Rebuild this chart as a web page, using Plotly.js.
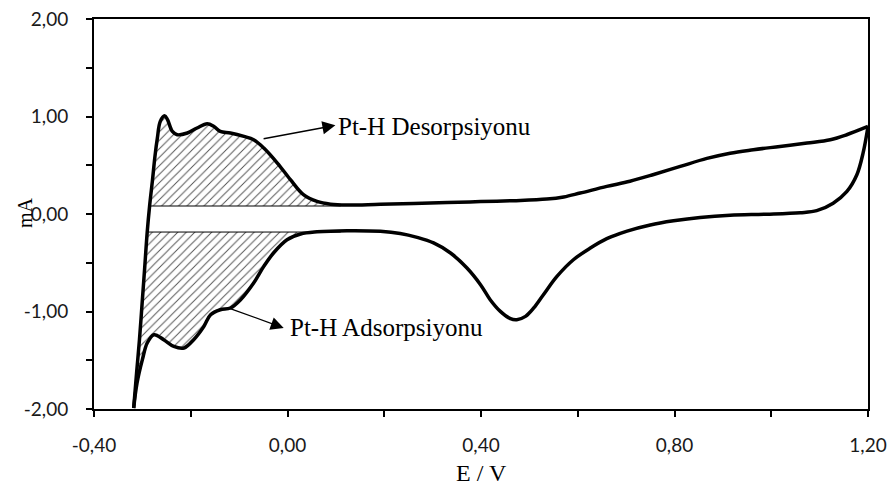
<!DOCTYPE html>
<html><head><meta charset="utf-8">
<script src="https://cdn.plot.ly/plotly-3.0.1.min.js"></script>
<style>html,body{margin:0;padding:0;background:#fff}#chart{width:893px;height:487px}</style>
</head><body><div id="chart"></div>
<script>
// Anodic (forward) scan: E (V) and current (mA)
const anodicE = [-0.318,-0.312,-0.306,-0.300,-0.295,-0.290,-0.285,-0.279,-0.274,-0.269,-0.263,-0.254,-0.248,-0.238,-0.228,-0.207,-0.187,-0.166,-0.152,-0.139,-0.118,-0.090,-0.070,-0.049,-0.021,0.006,0.033,0.061,0.089,0.123,0.192,0.330,0.399,0.467,0.536,0.571,0.605,0.660,0.708,0.757,0.812,0.867,0.915,0.963,1.018,1.074,1.122,1.156,1.200];
const anodicI = [-1.99,-1.631,-1.289,-0.879,-0.537,-0.185,0.085,0.352,0.591,0.779,0.950,1.008,0.967,0.847,0.813,0.831,0.882,0.926,0.898,0.847,0.831,0.796,0.762,0.677,0.523,0.352,0.198,0.129,0.101,0.092,0.100,0.118,0.127,0.137,0.153,0.175,0.215,0.283,0.336,0.405,0.488,0.570,0.624,0.659,0.693,0.728,0.762,0.813,0.898];
// Cathodic (reverse) scan
const cathodicE = [1.200,1.190,1.177,1.156,1.128,1.094,1.060,0.991,0.915,0.853,0.798,0.750,0.702,0.660,0.626,0.591,0.557,0.529,0.509,0.492,0.474,0.461,0.440,0.419,0.399,0.371,0.337,0.302,0.268,0.233,0.192,0.123,0.061,0.027,-0.001,-0.029,-0.049,-0.070,-0.097,-0.118,-0.139,-0.159,-0.173,-0.194,-0.214,-0.235,-0.256,-0.276,-0.290,-0.300,-0.311,-0.318];
const cathodicI = [0.898,0.629,0.403,0.229,0.111,0.034,0.013,-0.002,-0.012,-0.035,-0.070,-0.112,-0.175,-0.253,-0.349,-0.469,-0.640,-0.828,-0.964,-1.050,-1.084,-1.074,-0.999,-0.879,-0.725,-0.554,-0.400,-0.297,-0.240,-0.200,-0.178,-0.172,-0.183,-0.205,-0.264,-0.400,-0.537,-0.708,-0.879,-0.964,-0.982,-1.033,-1.153,-1.289,-1.374,-1.358,-1.289,-1.238,-1.323,-1.494,-1.733,-1.99];
// Baselines of the hatched charge areas
const desorptionBase = 0.082;
const adsorptionBase = -0.185;
const hatchEnd = 0.11;
// Tick labels
const xTickVals = [-0.4, 0, 0.4, 0.8, 1.2];
const xTickText = ['-0,40','0,00','0,40','0,80','1,20'];
const yTickVals = [-2, -1, 0, 1, 2];
const yTickText = ['-2,00','-1,00','0,00','1,00','2,00'];
const labels = ['Pt-H Desorpsiyonu', 'Pt-H Adsorpsiyonu'];

function lerpX(x0,y0,x1,y1,L){ return x0 + (x1-x0)*(L-y0)/(y1-y0); }
function lerpY(x0,y0,x1,y1,X){ return y0 + (y1-y0)*(X-x0)/(x1-x0); }

// Desorption area (above desorptionBase, under anodic curve)
let iA = 0; while(!(anodicI[iA] < desorptionBase && anodicI[iA+1] >= desorptionBase)) iA++;
const xDesStart = lerpX(anodicE[iA],anodicI[iA],anodicE[iA+1],anodicI[iA+1],desorptionBase);
const desX = [xDesStart], desY = [desorptionBase];
let k = iA+1;
while (anodicE[k] < hatchEnd) { desX.push(anodicE[k]); desY.push(anodicI[k]); k++; }
desX.push(hatchEnd); desY.push(lerpY(anodicE[k-1],anodicI[k-1],anodicE[k],anodicI[k],hatchEnd));
desX.push(hatchEnd); desY.push(desorptionBase);
desX.push(xDesStart); desY.push(desorptionBase);

// Adsorption area (below adsorptionBase, between anodic rise and cathodic curve)
let iC = -1;
for (let i=0;i<cathodicI.length-1;i++){ if(cathodicI[i] >= adsorptionBase && cathodicI[i+1] < adsorptionBase) iC=i; }
const xAdsEnd = lerpX(cathodicE[iC],cathodicI[iC],cathodicE[iC+1],cathodicI[iC+1],adsorptionBase);
let jA = 0; while(!(anodicI[jA] < adsorptionBase && anodicI[jA+1] >= adsorptionBase)) jA++;
const xAdsStart = lerpX(anodicE[jA],anodicI[jA],anodicE[jA+1],anodicI[jA+1],adsorptionBase);
const adsX = [xAdsEnd], adsY = [adsorptionBase];
for (let i=iC+1;i<cathodicE.length;i++){ adsX.push(cathodicE[i]); adsY.push(cathodicI[i]); }
for (let i=1;i<=jA;i++){ adsX.push(anodicE[i]); adsY.push(anodicI[i]); }
adsX.push(xAdsStart); adsY.push(adsorptionBase);
adsX.push(xAdsEnd); adsY.push(adsorptionBase);

const hatch = {shape:'/', size:6, solidity:0.16, fgcolor:'#555', bgcolor:'#ffffff'};
const traces = [
  {x:desX, y:desY, mode:'lines', fill:'toself', fillcolor:'#ffffff', fillpattern:hatch, line:{width:0, color:'rgba(0,0,0,0)'}, hoverinfo:'skip'},
  {x:adsX, y:adsY, mode:'lines', fill:'toself', fillcolor:'#ffffff', fillpattern:hatch, line:{width:0, color:'rgba(0,0,0,0)'}, hoverinfo:'skip'},
  {x:[xDesStart, hatchEnd], y:[desorptionBase, desorptionBase], mode:'lines', line:{color:'#000', width:1}},
  {x:[xAdsStart, hatchEnd], y:[adsorptionBase, adsorptionBase], mode:'lines', line:{color:'#000', width:1}},
  {x:anodicE, y:anodicI, mode:'lines', line:{color:'#000', width:3.5, shape:'spline', smoothing:1}},
  {x:cathodicE, y:cathodicI, mode:'lines', line:{color:'#000', width:3.5, shape:'spline', smoothing:1}}
];

const tickFont = {family:'Lato, "Open Sans", sans-serif', size:19, color:'#1a1a1a'};
const serif = 'Liberation Serif, "Times New Roman", serif';
const layout = {
  width:893, height:487,
  margin:{l:94, r:25, t:19, b:78},
  paper_bgcolor:'#fff', plot_bgcolor:'#fff',
  showlegend:false,
  xaxis:{range:[-0.4,1.2], tickmode:'array', tickvals:xTickVals, ticktext:xTickText,
    showgrid:false, zeroline:false, showline:true, mirror:true, linecolor:'#000', linewidth:2,
    ticks:'outside', ticklen:6, tickwidth:2, tickcolor:'#000', tickfont:tickFont, ticklabelstandoff:12,
    minor:{dtick:0.2, tick0:-0.4, ticks:'outside', ticklen:6, tickwidth:2, tickcolor:'#000', showgrid:false}},
  yaxis:{range:[-2,2], tickmode:'array', tickvals:yTickVals, ticktext:yTickText,
    showgrid:false, zeroline:false, showline:true, mirror:true, linecolor:'#000', linewidth:2,
    ticks:'outside', ticklen:6, tickwidth:2, tickcolor:'#000', tickfont:tickFont, ticklabelstandoff:14,
    minor:{dtick:0.5, tick0:-2, ticks:'outside', ticklen:6, tickwidth:2, tickcolor:'#000', showgrid:false}},
  annotations:[
    {xref:'x', yref:'y', axref:'x', ayref:'y', x:0.099, y:0.909, ax:-0.0525, ay:0.769, text:'', showarrow:true, arrowhead:2, arrowsize:2, arrowwidth:1.3, arrowcolor:'#000', standoff:0, startstandoff:0},
    {xref:'x', yref:'y', x:0.101, y:0.895, xanchor:'left', yanchor:'middle', text:labels[0], showarrow:false, font:{family:serif, size:25, color:'#000'}},
    {xref:'x', yref:'y', axref:'x', ayref:'y', x:-0.0078, y:-1.169, ax:-0.1215, ay:-0.964, text:'', showarrow:true, arrowhead:2, arrowsize:2, arrowwidth:1.3, arrowcolor:'#000', standoff:0, startstandoff:0},
    {xref:'x', yref:'y', x:0.002, y:-1.166, xanchor:'left', yanchor:'middle', text:labels[1], showarrow:false, font:{family:serif, size:25, color:'#000'}},
    {xref:'paper', yref:'paper', x:0.5, y:-0.164, xanchor:'center', yanchor:'middle', text:'E / V', showarrow:false, font:{family:serif, size:24, color:'#000'}},
    {xref:'paper', yref:'paper', x:-0.0891, y:0.5026, xanchor:'center', yanchor:'middle', textangle:-90, text:'mA', showarrow:false, font:{family:serif, size:20, color:'#000'}}
  ]
};
Plotly.newPlot('chart', traces, layout, {displayModeBar:false, staticPlot:true});
</script></body></html>
